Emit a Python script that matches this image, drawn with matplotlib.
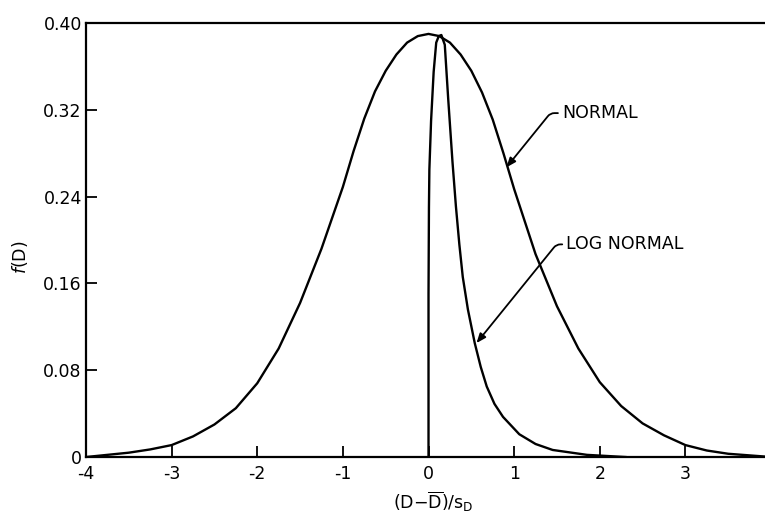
import matplotlib
matplotlib.use("Agg")
import matplotlib.pyplot as plt

# ---- data ----
normal_x = [-4.0, -3.75, -3.5, -3.25, -3.0, -2.75, -2.5, -2.25, -2.0, -1.75,
            -1.5, -1.25, -1.0, -0.875, -0.75, -0.625, -0.5, -0.375, -0.25, -0.125,
            0.0, 0.125, 0.25, 0.375, 0.5, 0.625, 0.75, 0.875, 1.0, 1.25,
            1.5, 1.75, 2.0, 2.25, 2.5, 2.75, 3.0, 3.25, 3.5, 3.75, 4.0]
normal_y = [0.000, 0.002, 0.004, 0.007, 0.011, 0.019, 0.030, 0.045, 0.068, 0.100,
            0.142, 0.192, 0.249, 0.282, 0.312, 0.337, 0.356, 0.371, 0.382, 0.388,
            0.390, 0.388, 0.382, 0.371, 0.356, 0.336, 0.311, 0.280, 0.247, 0.187,
            0.139, 0.100, 0.069, 0.047, 0.031, 0.020, 0.011, 0.006, 0.003, 0.0015, 0.000]

lognormal_x = [0.00, 0.00, 0.005, 0.01, 0.03, 0.06, 0.09, 0.12, 0.15, 0.19,
               0.23, 0.28, 0.32, 0.36, 0.40, 0.46, 0.54, 0.61, 0.68, 0.77,
               0.87, 1.06, 1.25, 1.45, 1.85, 2.30]
lognormal_y = [0.000, 0.150, 0.230, 0.265, 0.310, 0.355, 0.382, 0.388, 0.389, 0.380,
               0.330, 0.272, 0.231, 0.196, 0.166, 0.136, 0.105, 0.083, 0.065, 0.049,
               0.037, 0.021, 0.012, 0.0065, 0.002, 0.000]

x_ticks = [-4, -3, -2, -1, 0, 1, 2, 3, 4]
x_ticklabels = ["-4", "-3", "-2", "-1", "0", "1", "2", "3", "4"]
y_ticks = [0, 0.08, 0.16, 0.24, 0.32, 0.40]
y_ticklabels = ["0", "0.08", "0.16", "0.24", "0.32", "0.40"]

# ---- figure ----
fig = plt.figure(figsize=(7.65, 5.16), dpi=100)
ax = fig.add_axes([0.1124, 0.1143, 0.8955, 0.841])

lw = 1.7
ax.plot(normal_x, normal_y, color="black", lw=lw, solid_joinstyle="round")
ax.plot(lognormal_x, lognormal_y, color="black", lw=lw, solid_joinstyle="round")

ax.set_xlim(-4, 4)
ax.set_ylim(0, 0.40)
ax.set_xticks(x_ticks)
ax.set_xticklabels(x_ticklabels)
ax.set_yticks(y_ticks)
ax.set_yticklabels(y_ticklabels)

for s in ["left", "bottom", "top"]:
    ax.spines[s].set_linewidth(1.6)
ax.spines["right"].set_visible(False)

ax.tick_params(axis="both", direction="in", length=8, width=1.3,
               labelsize=12.5, colors="black")
ax.tick_params(axis="x", pad=6)
ax.tick_params(axis="y", pad=3)

arrow = dict(arrowstyle="-|>,head_length=0.45,head_width=0.18", color="black",
             lw=1.3, shrinkA=1, shrinkB=0, relpos=(0, 0.5),
             connectionstyle="angle,angleA=0,angleB=51,rad=4")
ax.annotate("NORMAL", xy=(0.91, 0.267), xytext=(1.56, 0.317),
            ha="left", va="center", fontsize=12.5, arrowprops=arrow)
ax.annotate("LOG NORMAL", xy=(0.56, 0.105), xytext=(1.61, 0.196),
            ha="left", va="center", fontsize=12.5, arrowprops=arrow)

fig.text(0.026, 1 - 257 / 516, r"$f$(D)", rotation=90, ha="center", va="center",
         fontsize=12.5)
fig.text(433 / 765, 1 - 509 / 516, r"(D$-\overline{\mathrm{D}}$)/s$_\mathrm{D}$",
         ha="center", va="baseline", fontsize=12.5)

fig.savefig("out.png", dpi=100)
